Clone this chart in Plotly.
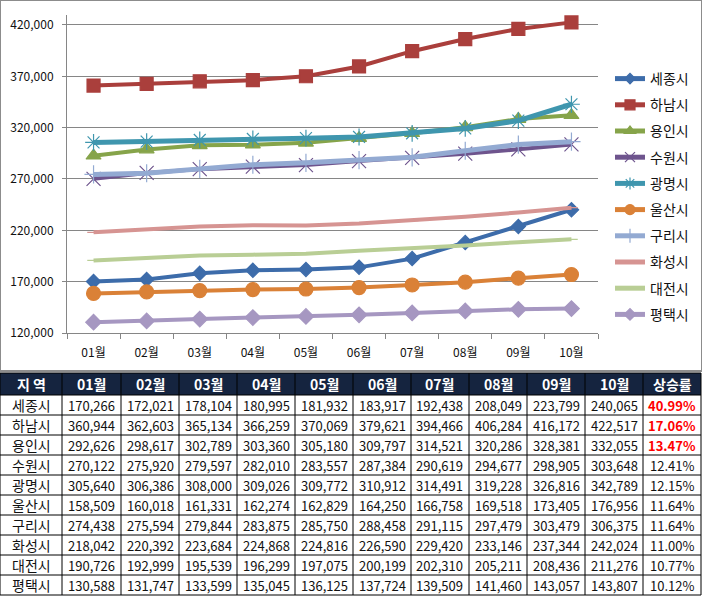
import plotly.graph_objects as go

months = ["01월", "02월", "03월", "04월", "05월", "06월", "07월", "08월", "09월", "10월"]
cities = ["세종시", "하남시", "용인시", "수원시", "광명시", "울산시", "구리시", "화성시", "대전시", "평택시"]

sejong = [170266, 172021, 178104, 180995, 181932, 183917, 192438, 208049, 223799, 240065]
hanam = [360944, 362603, 365134, 366259, 370069, 379621, 394466, 406284, 416172, 422517]
yongin = [292626, 298617, 302789, 303360, 305180, 309797, 314521, 320286, 328381, 332055]
suwon = [270122, 275920, 279597, 282010, 283557, 287384, 290619, 294677, 298905, 303648]
gwangmyeong = [305640, 306386, 308000, 309026, 309772, 310912, 314491, 319228, 326816, 342789]
ulsan = [158509, 160018, 161331, 162274, 162829, 164250, 166758, 169518, 173405, 176956]
guri = [274438, 275594, 279844, 283875, 285750, 288458, 291115, 297479, 303479, 306375]
hwaseong = [218042, 220392, 223684, 224868, 224816, 226590, 229420, 233146, 237344, 242024]
daejeon = [190726, 192999, 195539, 196299, 197075, 200199, 202310, 205211, 208436, 211276]
pyeongtaek = [130588, 131747, 133599, 135045, 136125, 137724, 139509, 141460, 143057, 143807]

rates = ["40.99%", "17.06%", "13.47%", "12.41%", "12.15%", "11.64%", "11.64%", "11.00%", "10.77%", "10.12%"]
highlight = [True, True, True, False, False, False, False, False, False, False]
header = ["지 역"] + months + ["상승률"]

series = [sejong, hanam, yongin, suwon, gwangmyeong, ulsan, guri, hwaseong, daejeon, pyeongtaek]
colors = ["#3D6CAA", "#AA3F3C", "#86A44A", "#6E548D", "#3F96AE", "#DA8137",
          "#93AAD2", "#D69492", "#B9CE95", "#A697C1"]
symbols = ["diamond", "square", "triangle-up", "x-thin-open", "asterisk-open", "circle",
           "cross-thin-open", "line-ew-open", "line-ew-open", "diamond"]
msizes = [11, 13, 13, 14, 14, 14, 13, 9, 9, 12]
legend_msizes = [8, 10, 10, 10, 10, 10, 10, 7, 7, 9]
lwidths = [4, 4, 4, 4, 5, 4, 5, 4, 4, 4]

FONT = "Noto Sans CJK KR"
W, H = 702, 598
fig = go.Figure()

for name, vals, c, s, ms, lw in zip(cities, series, colors, symbols, msizes, lwidths):
    fig.add_trace(go.Scatter(
        x=months, y=vals, name=name, legendgroup=name, mode="lines+markers", showlegend=False,
        line=dict(color=c, width=lw),
        marker=dict(symbol=s, size=ms, color=c, line=dict(color=c, width=1.2)),
    ))

# legend-only entries (no visible points) with smaller legend markers
for name, c, s, lms in zip(cities, colors, symbols, legend_msizes):
    fig.add_trace(go.Scatter(
        x=[months[0]], y=[None], name=name, legendgroup=name, mode="lines+markers",
        line=dict(color=c, width=5),
        marker=dict(symbol=s, size=lms, color=c, line=dict(color=c, width=1.2)),
        hoverinfo="skip",
    ))

# ---- table drawn with shapes + annotations (pixel layout) ----
def px(x):
    return x / W

def py(y):
    return (H - y) / H

col_edges = [0, 62, 121, 179, 237, 295, 353, 411, 469, 527, 585, 643, 701]
header_top, header_bot, row_h = 373, 395, 20
row_edges = [header_top, header_bot] + [header_bot + row_h * (k + 1) for k in range(len(cities))]
table_bot = row_edges[-1]

shapes = [
    dict(type="rect", xref="paper", yref="paper", x0=0, x1=1, y0=py(371), y1=1,
         line=dict(color="#8C8C8C", width=2), fillcolor="rgba(0,0,0,0)", layer="below"),
    dict(type="rect", xref="paper", yref="paper", x0=px(0), x1=px(701), y0=py(header_bot), y1=py(header_top),
         line=dict(width=0), fillcolor="#15243F", layer="below"),
]
for xe in col_edges:
    shapes.append(dict(type="line", xref="paper", yref="paper", x0=px(xe), x1=px(xe),
                       y0=py(table_bot), y1=py(header_top), line=dict(color="#000000", width=1)))
for ye in row_edges:
    shapes.append(dict(type="line", xref="paper", yref="paper", x0=px(0), x1=px(701),
                       y0=py(ye), y1=py(ye), line=dict(color="#000000", width=1)))

annotations = []
centers = [(col_edges[i] + col_edges[i + 1]) / 2 for i in range(len(col_edges) - 1)]
for i, h in enumerate(header):
    annotations.append(dict(xref="paper", yref="paper", x=px(centers[i]), y=py((header_top + header_bot) / 2),
                            text=f"<b>{h}</b>", showarrow=False, xanchor="center", yanchor="middle",
                            font=dict(color="white", size=14, family=FONT)))
for r, city in enumerate(cities):
    yc = py(header_bot + row_h * r + row_h / 2)
    row = [city] + [f"{series[r][m]:,}" for m in range(len(months))]
    for i, t in enumerate(row):
        annotations.append(dict(xref="paper", yref="paper", x=px(centers[i]), y=yc, text=t,
                                showarrow=False, xanchor="center", yanchor="middle",
                                font=dict(color="#111111", size=14 if i == 0 else 13, family=FONT)))
    rt = f"<b>{rates[r]}</b>" if highlight[r] else rates[r]
    annotations.append(dict(xref="paper", yref="paper", x=px(centers[-1]), y=yc, text=rt,
                            showarrow=False, xanchor="center", yanchor="middle",
                            font=dict(color="#FF0000" if highlight[r] else "#111111", size=13, family=FONT)))

fig.update_layout(
    width=W, height=H,
    margin=dict(l=0, r=0, t=0, b=0),
    paper_bgcolor="white", plot_bgcolor="white",
    font=dict(family=FONT, color="#111111"),
    showlegend=True,
    legend=dict(x=610 / W, y=(H - 63) / H, xanchor="left", yanchor="top",
                font=dict(size=14, family=FONT), tracegroupgap=5, itemwidth=30,
                bgcolor="rgba(0,0,0,0)"),
    xaxis=dict(domain=[67 / W, 598 / W], type="category", range=[-0.5, 9.5],
               showline=True, linecolor="#868686", linewidth=1, ticks="outside",
               tickson="boundaries", ticklen=5, tickcolor="#868686", showgrid=False,
               tickfont=dict(size=12, family=FONT, color="#111111"), ticklabelstandoff=9,
               automargin=False),
    yaxis=dict(domain=[(H - 333) / H, (H - 14.7) / H],
               range=[120000, 430000], tickvals=[120000, 170000, 220000, 270000, 320000, 370000, 420000],
               tickformat=",d", showline=True, linecolor="#868686", linewidth=1,
               showgrid=True, gridcolor="#868686", gridwidth=1, ticks="outside", ticklen=4,
               tickcolor="#868686", zeroline=False,
               tickfont=dict(size=12, family=FONT, color="#111111"), ticklabelstandoff=6,
               automargin=False),
    shapes=shapes,
    annotations=annotations,
)

fig.write_html("out.html")
